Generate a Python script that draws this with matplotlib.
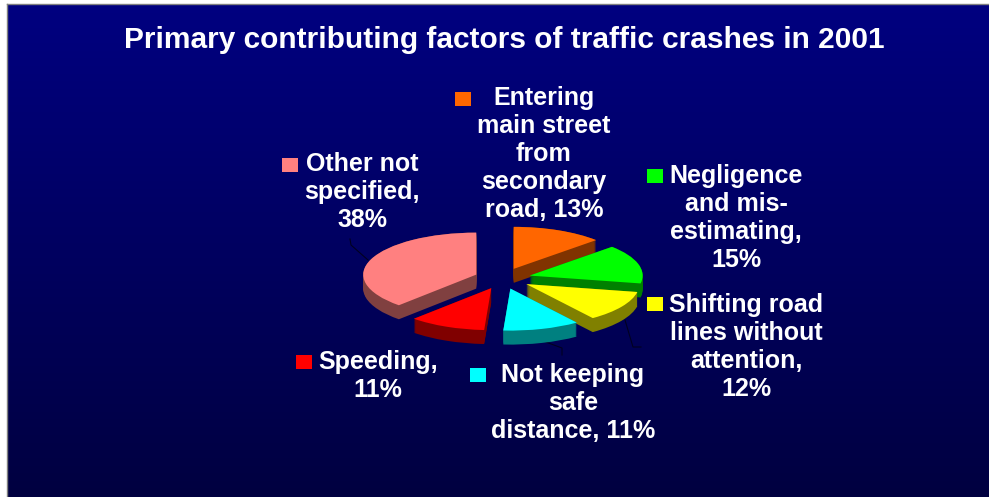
import numpy as np
import matplotlib
matplotlib.use("Agg")
import matplotlib.pyplot as plt
from matplotlib.patches import Rectangle

# data
factors = [
    "Entering\nmain street\nfrom\nsecondary\nroad,",
    "Negligence\nand mis-\nestimating,",
    "Shifting road\nlines without\nattention,",
    "Not keeping\nsafe\ndistance,",
    "Speeding,",
    "Other not\nspecified,",
]
shares = [13, 15, 12, 11, 11, 38]
top_colors = ["#FF6600", "#00FF00", "#FFFF00", "#00FFFF", "#FF0000", "#FF8080"]
side_colors = ["#803300", "#008000", "#808000", "#008080", "#800000", "#804040"]
title = "Primary contributing factors of traffic crashes in 2001"

W, H = 989, 497
plt.rcParams['font.family'] = ['Liberation Sans', 'DejaVu Sans']

fig = plt.figure(figsize=(W / 100, H / 100), dpi=100, facecolor='white')

# pixel layer for the background, keys and text
bg = fig.add_axes([0, 0, 1, 1])
bg.set_xlim(0, W)
bg.set_ylim(H, 0)
bg.axis('off')

grad = np.linspace(0, 1, 256).reshape(-1, 1)
grad_colors = np.zeros((256, 1, 3))
grad_colors[:, 0, 2] = (128 - 64 * grad[:, 0]) / 255
bg.imshow(grad_colors, extent=(7, W, H, 4), aspect='auto', zorder=0)
bg.set_xlim(0, W)
bg.set_ylim(H, 0)
bg.plot([7, W], [4, 4], color='#808080', linewidth=1, zorder=1)
bg.plot([7, 7], [4, H], color='#808080', linewidth=1, zorder=1)

# pie, squashed by giving the axes a flat box
cx, cy = 502.5, 278.5
rx, ry = 113, 42
k = 1.6
pie_ax = fig.add_axes([(cx - k * rx) / W, 1 - (cy + k * ry) / H,
                       2 * k * rx / W, 2 * k * ry / H])
pie_ax.patch.set_alpha(0)
explode = [0.25] * len(shares)

# side walls: stacked copies moved down
for depth in np.linspace(14 / ry, 0, 15):
    pie_ax.pie(shares, colors=side_colors, explode=explode, startangle=90,
               counterclock=False, center=(0, -depth),
               wedgeprops=dict(linewidth=0))
pie_ax.pie(shares, colors=top_colors, explode=explode, startangle=90,
           counterclock=False, wedgeprops=dict(linewidth=0))
pie_ax.set_aspect('auto')
pie_ax.set_xlim(-k, k)
pie_ax.set_ylim(-k, k)
pie_ax.axis('off')

bg.text(504, 40, title, color='white', fontsize=21.5, fontweight='bold',
        ha='center', va='center', zorder=5)

# label layout
label_xy = [(544, 154), (736, 218), (746, 347), (573, 403), (378, 376), (362, 192)]
key_xy = [(455, 92), (647, 169), (647, 297), (470, 368), (296, 355), (282, 158)]

for name, val, col, (lx, ly), (kx, ky) in zip(factors, shares, top_colors, label_xy, key_xy):
    # the short labels in the source break before the percentage
    sep = " " if name.startswith(("Entering", "Not")) else "\n"
    bg.text(lx, ly, f"{name}{sep}{val}%", color='white', fontsize=18, fontweight='bold',
            ha='center', va='center', linespacing=1.22, zorder=5)
    bg.add_patch(Rectangle((kx, ky), 16, 14, facecolor=col, edgecolor='none', zorder=5))

# leader lines
leaders = [
    ([350, 351, 368], [239, 245, 260]),
    ([625, 633, 641], [320, 347, 347]),
    ([543, 562, 562], [341, 348, 355]),
]
for xs, ys in leaders:
    bg.plot(xs, ys, color='#000020', linewidth=0.8, zorder=4)

fig.savefig("out.png", dpi=100, facecolor=fig.get_facecolor())
